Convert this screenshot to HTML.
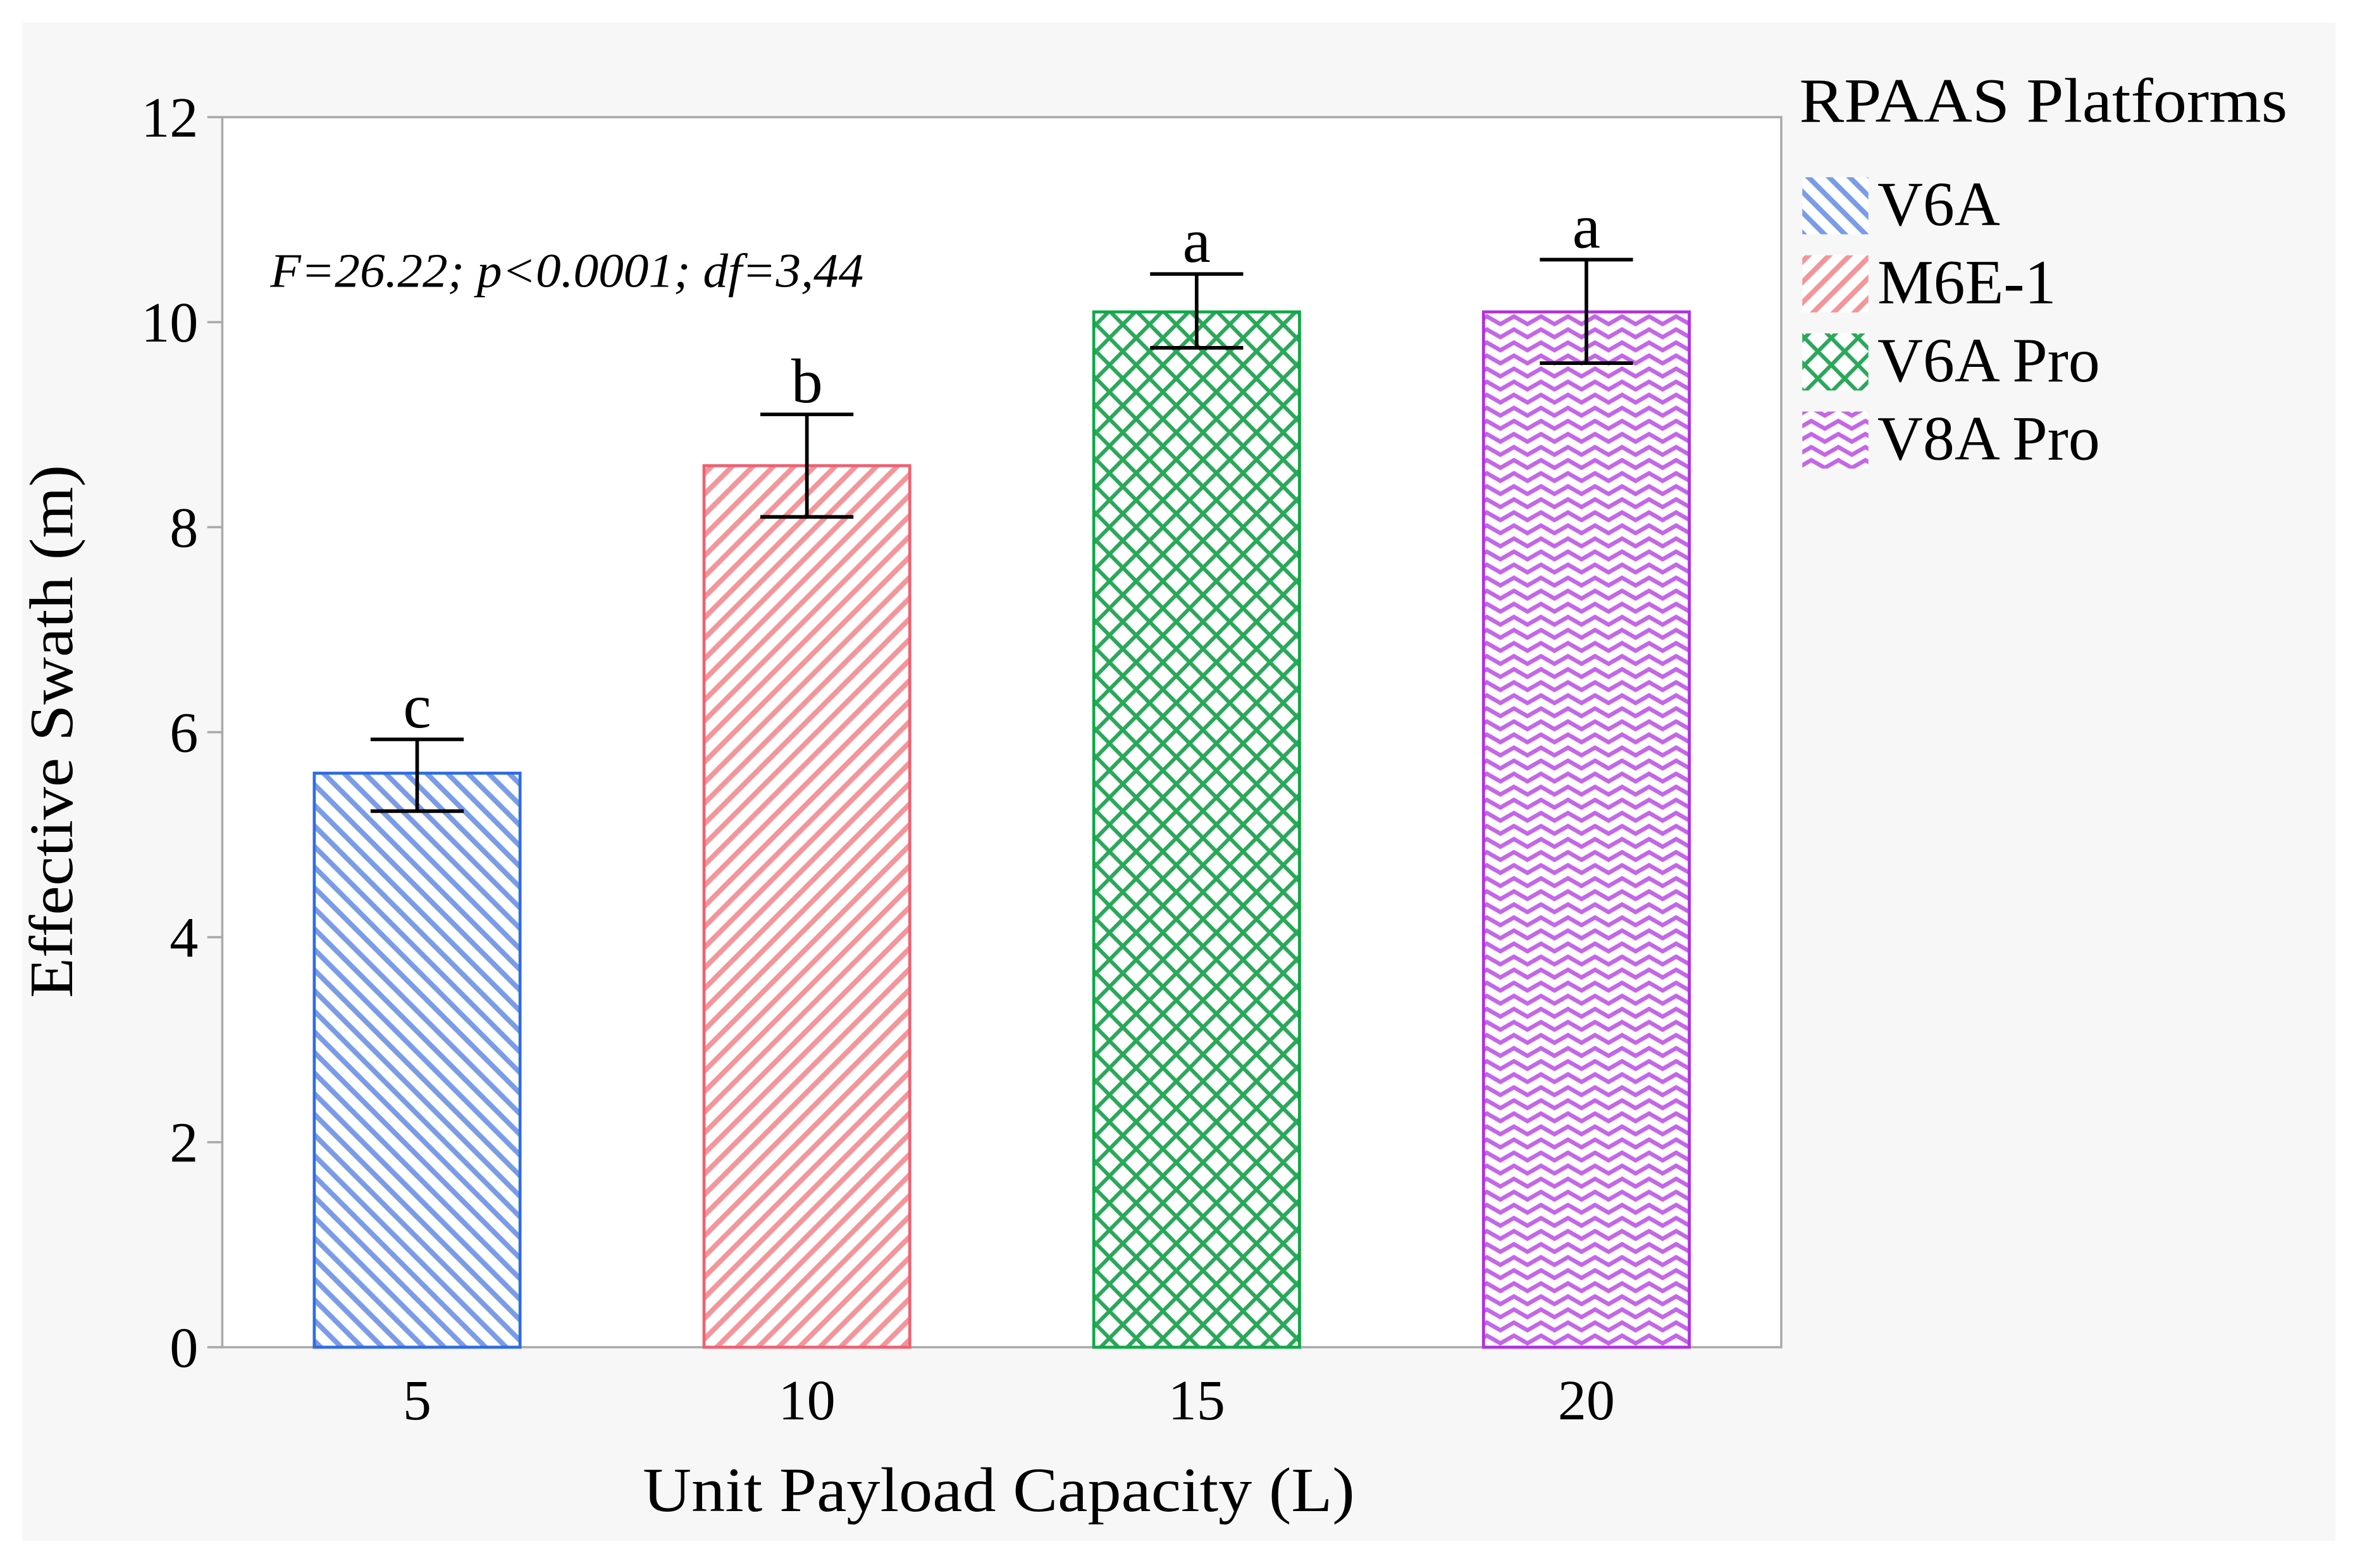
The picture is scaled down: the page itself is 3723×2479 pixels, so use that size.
<!DOCTYPE html>
<html><head><meta charset="utf-8"><style>
html,body{margin:0;padding:0;background:#fff;}
svg{display:block;}
text{font-family:"Liberation Serif",serif;fill:#000;}
</style></head>
<body>
<svg id="chart" width="3723" height="2479" viewBox="0 0 1568 1044" preserveAspectRatio="none" xmlns="http://www.w3.org/2000/svg">
<defs>
<pattern id="p-blue" patternUnits="userSpaceOnUse" width="9.7" height="9.7" patternTransform="rotate(-45)">
<rect width="9.7" height="9.7" fill="#fff"/><rect x="0" y="0" width="3.4" height="9.7" fill="#7a9ce8"/></pattern>
<pattern id="p-red" patternUnits="userSpaceOnUse" width="9.7" height="9.7" patternTransform="rotate(45)">
<rect width="9.7" height="9.7" fill="#fff"/><rect x="0" y="0" width="3.4" height="9.7" fill="#f4959a"/></pattern>
<pattern id="p-green" patternUnits="userSpaceOnUse" width="17.8" height="18" >
<rect width="17.8" height="18" fill="#fff"/>
<path d="M0,0 L17.8,18 M17.8,0 L0,18 M-8.9,9 L0,18 M8.9,-9 L17.8,0 M0,0 L-8.9,9 M17.8,18 L26.7,9" stroke="#2aa85a" stroke-width="2.6" fill="none"/></pattern>
<pattern id="p-purple" patternUnits="userSpaceOnUse" width="18" height="8.7">
<rect width="18" height="8.7" fill="#fff"/>
<path d="M-1,1.3 L9,7 L19,1.3" stroke="#c466e8" stroke-width="2.8" fill="none"/></pattern>
</defs>
<rect x="15" y="15" width="1540" height="1011" fill="#f7f7f7"/>
<rect x="148" y="78" width="1038" height="819" fill="#fff" stroke="#aaa" stroke-width="1.5"/>
<g id="yaxis"></g>
<g id="xaxis"></g>
<g id="bars"></g>
<text x="48" y="487" font-size="41" text-anchor="middle" textLength="355" lengthAdjust="spacingAndGlyphs" transform="rotate(-90 48 487)">Effective Swath (m)</text>
<text x="665" y="1006" font-size="42" text-anchor="middle" textLength="474" lengthAdjust="spacingAndGlyphs">Unit Payload Capacity (L)</text>
<text x="180" y="191" font-size="32" font-style="italic" textLength="395" lengthAdjust="spacingAndGlyphs">F=26.22; p&lt;0.0001; df=3,44</text>
<text x="1198" y="81" font-size="42" textLength="325" lengthAdjust="spacingAndGlyphs">RPAAS Platforms</text>
<g id="legend"></g>
</svg>
<script>
const categories = ["5","10","15","20"];
const series = ["V6A","M6E-1","V6A Pro","V8A Pro"];
const values = [5.6, 8.6, 10.1, 10.1];
const errHigh = [5.93, 9.1, 10.47, 10.61];
const errLow = [5.23, 8.1, 9.75, 9.6];
const letters = ["c","b","a","a"];
const yTicks = [0,2,4,6,8,10,12];

const NS="http://www.w3.org/2000/svg";
const fills=["url(#p-blue)","url(#p-red)","url(#p-green)","url(#p-purple)"];
const strokes=["#2f6de0","#f06070","#10a848","#b030e0"];
const X0=148,X1=1186,Y0=897,Y1=78;
function yS(v){return Y0-(v/12)*(Y0-Y1);}
function xS(i){return X0+(i+0.5)*(X1-X0)/categories.length;}
const barW=137;
function mk(tag,attrs,parent){const e=document.createElementNS(NS,tag);for(const k in attrs)e.setAttribute(k,attrs[k]);parent.appendChild(e);return e;}
const ya=document.getElementById('yaxis'),xa=document.getElementById('xaxis'),bg=document.getElementById('bars'),lg=document.getElementById('legend');
yTicks.forEach(t=>{
  const l=mk('line',{x1:X0-10,x2:X0,y1:yS(t),y2:yS(t),stroke:'#aaa','stroke-width':1.5},ya);
  
  
  const tx=mk('text',{x:X0-16,y:yS(t)+13,'font-size':38,'text-anchor':'end'},ya);
  tx.textContent=t;
  
  
});
categories.forEach((c,i)=>{
  const tx=mk('text',{x:xS(i),y:945,'font-size':38,'text-anchor':'middle'},xa);
  tx.textContent=c;
  
  
  const r=mk('rect',{x:xS(i)-barW/2,y:yS(values[i]),width:barW,height:yS(0)-yS(values[i]),fill:fills[i],stroke:strokes[i],'stroke-width':2},bg);
  
  
  const g=mk('g',{stroke:'#000','stroke-width':2.4},bg);
  
  
  mk('line',{x1:xS(i),x2:xS(i),y1:yS(errHigh[i]),y2:yS(errLow[i])},g);
  mk('line',{x1:xS(i)-31,x2:xS(i)+31,y1:yS(errHigh[i]),y2:yS(errHigh[i])},g);
  mk('line',{x1:xS(i)-31,x2:xS(i)+31,y1:yS(errLow[i]),y2:yS(errLow[i])},g);
  const lt=mk('text',{x:xS(i),y:yS(errHigh[i])-8,'font-size':42,'text-anchor':'middle'},bg);
  lt.textContent=letters[i];
  
  
});
series.forEach((s,i)=>{
  const y=118+i*52;
  const sw=mk('rect',{x:1200,y:y,width:44,height:38,fill:fills[i]},lg);
  
  
  const tx=mk('text',{x:1250,y:y+32,'font-size':42},lg);
  tx.textContent=s;
  
  
});
</script>
</body></html>
